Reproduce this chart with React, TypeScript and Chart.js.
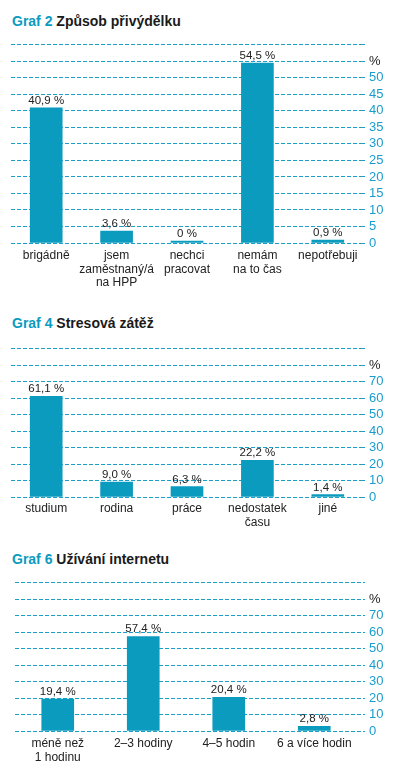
import React, { useEffect, useRef } from 'react';
import { Chart, registerables } from 'chart.js';

Chart.register(...registerables);

const FONT = '"Liberation Sans", Arial, sans-serif';
const TEAL = '#0a9bbf';
const GRID = '#1aa0c4';
const TICK = '#1a9dcc';
const DARK = '#222222';

// Graf 2
const cats1: (string | string[])[] = ['brigádně', ['jsem', 'zaměstnaný/á', 'na HPP'], ['nechci', 'pracovat'], ['nemám', 'na to čas'], 'nepotřebuji'];
const vals1 = [40.9, 3.6, 0, 54.5, 0.9];
const labels1 = ['40,9 %', '3,6 %', '0 %', '54,5 %', '0,9 %'];

// Graf 4
const cats2: (string | string[])[] = ['studium', 'rodina', 'práce', ['nedostatek', 'času'], 'jiné'];
const vals2 = [61.1, 9.0, 6.3, 22.2, 1.4];
const labels2 = ['61,1 %', '9,0 %', '6,3 %', '22,2 %', '1,4 %'];

// Graf 6
const cats3: (string | string[])[] = [['méně než', '1 hodinu'], '2–3 hodiny', '4–5 hodin', '6 a více hodin'];
const vals3 = [19.4, 57.4, 20.4, 2.8];
const labels3 = ['19,4 %', '57,4 %', '20,4 %', '2,8 %'];

const valueLabels = {
  id: 'valueLabels',
  afterDatasetsDraw(chart: any, _args: any, opts: any) {
    const ctx = chart.ctx;
    const meta = chart.getDatasetMeta(0);
    ctx.save();
    ctx.font = `11.5px ${FONT}`;
    ctx.fillStyle = DARK;
    ctx.textAlign = 'center';
    ctx.textBaseline = 'alphabetic';
    meta.data.forEach((bar: any, i: number) => {
      ctx.fillText(opts.labels[i], bar.x, bar.y - 4);
    });
    ctx.restore();
  },
};

type Props = {
  top: number;
  height: number;
  cats: (string | string[])[];
  vals: number[];
  valLabels: string[];
  max: number;
  step: number;
  pctAt: number;
  left: number;
  axisW: number;
  tickLen: number;
  axisH: number;
  labelPad: number;
};

function BarChart(p: Props) {
  const ref = useRef<HTMLCanvasElement>(null);
  useEffect(() => {
    const chart = new Chart(ref.current as HTMLCanvasElement, {
      type: 'bar',
      data: {
        labels: p.cats as any,
        datasets: [
          {
            data: p.vals,
            backgroundColor: TEAL,
            barThickness: 32,
            minBarLength: 2,
            borderWidth: 0,
          },
        ],
      },
      plugins: [valueLabels as any],
      options: {
        animation: false,
        responsive: false,
        devicePixelRatio: 1,
        layout: { padding: { top: 10, left: p.left, right: 0, bottom: 0 } },
        plugins: {
          legend: { display: false },
          tooltip: { enabled: false },
          valueLabels: { labels: p.valLabels },
        } as any,
        scales: {
          x: {
            offset: true,
            grid: { display: false, drawTicks: false },
            border: { display: false },
            ticks: {
              color: DARK,
              font: { family: FONT, size: 12, lineHeight: 1.125 },
              padding: p.labelPad,
              maxRotation: 0,
              minRotation: 0,
              autoSkip: false,
            },
            afterFit: (s: any) => {
              s.height = p.axisH;
            },
          },
          y: {
            position: 'right',
            min: 0,
            max: p.max,
            grid: {
              color: GRID,
              lineWidth: 1,
              drawTicks: true,
              tickLength: p.tickLen,
              tickBorderDash: [4, 2],
            },
            border: { display: false, dash: [4, 2] },
            ticks: {
              stepSize: p.step,
              autoSkip: false,
              padding: 4,
              font: { family: FONT, size: 13 },
              color: (c: any) => (c.tick && c.tick.value === p.pctAt ? DARK : TICK),
              callback: (v: any) => (v === p.pctAt ? '%' : v > p.pctAt ? '' : String(v)),
            },
            afterFit: (s: any) => {
              s.width = p.axisW;
            },
          },
        },
      } as any,
    });
    return () => chart.destroy();
  }, []);
  return (
    <canvas
      ref={ref}
      width={399}
      height={p.height}
      style={{ position: 'absolute', left: 0, top: p.top, width: 399, height: p.height, display: 'block' }}
    />
  );
}

function Title({ top, num, text }: { top: number; num: string; text: string }) {
  return (
    <div
      style={{
        position: 'absolute',
        left: 12,
        top,
        fontFamily: FONT,
        fontWeight: 'bold',
        fontSize: 14,
        lineHeight: '16px',
        color: '#1a1a1a',
        whiteSpace: 'nowrap',
      }}
    >
      <span style={{ color: TEAL }}>{num}</span> {text}
    </div>
  );
}

export default function App() {
  return (
    <div style={{ position: 'absolute', left: 0, top: 0, width: 399, height: 773, background: '#fff', overflow: 'hidden' }}>
      <Title top={13} num="Graf 2" text="Způsob přivýdělku" />
      <BarChart
        top={33}
        height={260}
        cats={cats1}
        vals={vals1}
        valLabels={labels1}
        max={60}
        step={5}
        pctAt={55}
        left={11}
        axisW={36}
        tickLen={2}
        axisH={50}
        labelPad={6}
      />
      <Title top={315} num="Graf 4" text="Stresová zátěž" />
      <BarChart
        top={337}
        height={200}
        cats={cats2}
        vals={vals2}
        valLabels={labels2}
        max={90}
        step={10}
        pctAt={80}
        left={11}
        axisW={36}
        tickLen={2}
        axisH={40}
        labelPad={5}
      />
      <Title top={551} num="Graf 6" text="Užívání internetu" />
      <BarChart
        top={571}
        height={202}
        cats={cats3}
        vals={vals3}
        valLabels={labels3}
        max={90}
        step={10}
        pctAt={80}
        left={15}
        axisW={42}
        tickLen={8}
        axisH={42}
        labelPad={6}
      />
    </div>
  );
}
